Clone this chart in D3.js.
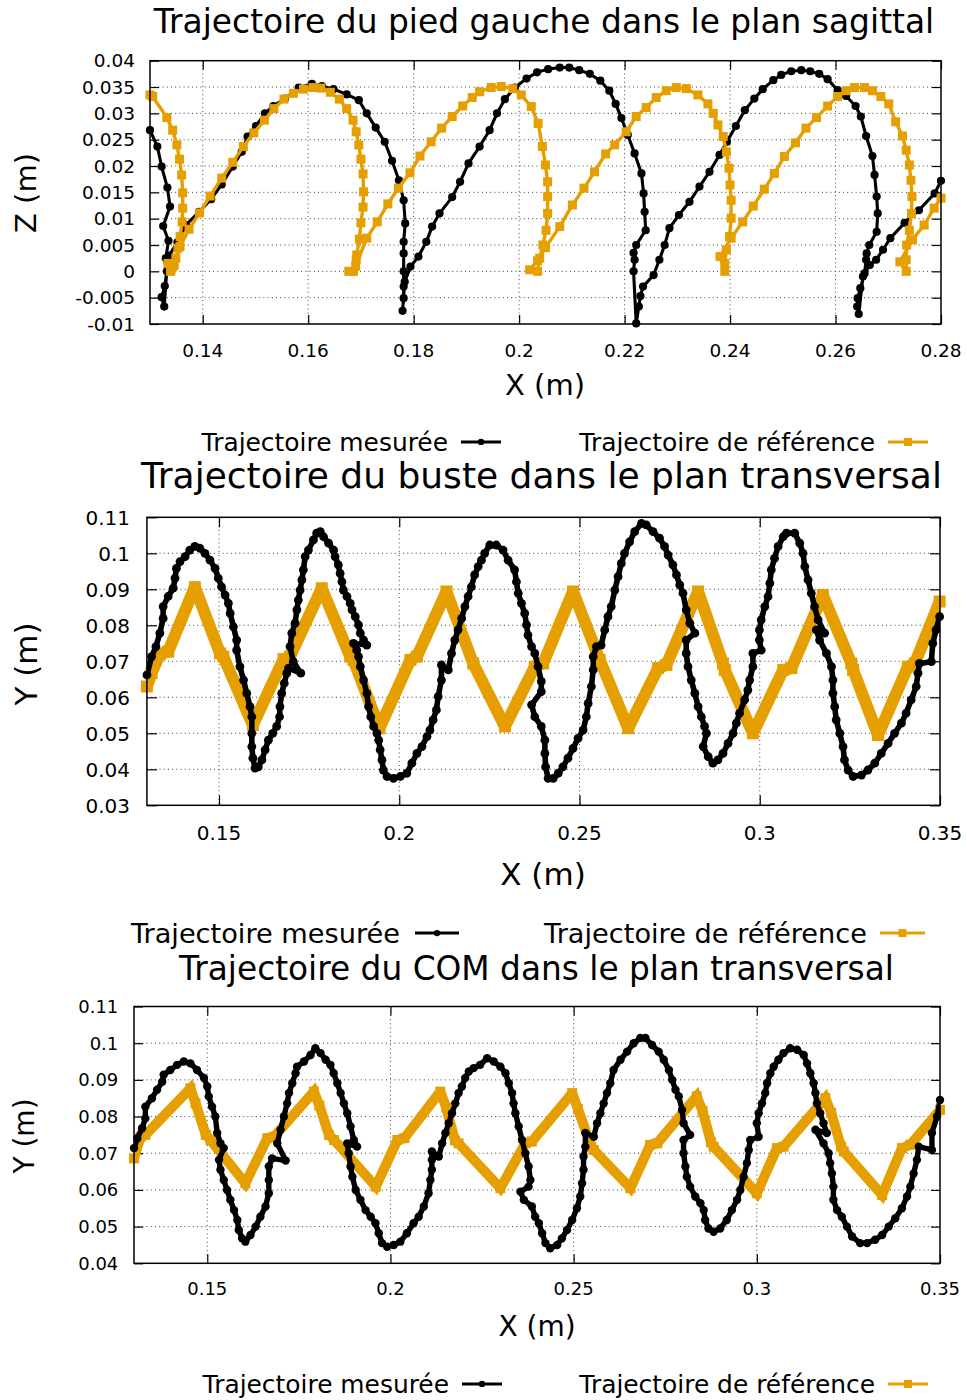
<!DOCTYPE html>
<html><head><meta charset="utf-8">
<script src="https://cdn.jsdelivr.net/npm/d3@7"></script>
<style>body{margin:0;background:#fff}svg{display:block}text{font-family:"DejaVu Sans",sans-serif;fill:#000}</style>
</head><body><svg id="c" width="967" height="1400"></svg>
<script>
// ---------- Panel 1 : pied gauche, plan sagittal (X, Z) ----------
const footMeasured = [[0.1300,0.0268],[0.1314,0.0237],[0.1322,0.0199],[0.1333,0.0159],[0.1338,0.0123],[0.1325,0.0086],[0.1335,0.0058],[0.1330,0.0025],[0.1332,0.0000],[0.1328,-0.0028],[0.1322,-0.0049],[0.1327,-0.0067],[0.1333,0.0018],[0.1336,0.0030],[0.1352,0.0055],[0.1368,0.0088],[0.1393,0.0113],[0.1416,0.0137],[0.1436,0.0165],[0.1457,0.0199],[0.1474,0.0227],[0.1485,0.0256],[0.1501,0.0276],[0.1518,0.0300],[0.1534,0.0314],[0.1556,0.0328],[0.1582,0.0349],[0.1607,0.0356],[0.1626,0.0352],[0.1648,0.0346],[0.1673,0.0336],[0.1696,0.0325],[0.1711,0.0300],[0.1728,0.0273],[0.1745,0.0246],[0.1759,0.0210],[0.1772,0.0173],[0.1781,0.0135],[0.1784,0.0091],[0.1781,0.0056],[0.1781,0.0034],[0.1781,0.0000],[0.1781,-0.0029],[0.1781,-0.0051],[0.1779,-0.0075],[0.1783,-0.0020],[0.1794,0.0009],[0.1809,0.0028],[0.1824,0.0056],[0.1835,0.0085],[0.1849,0.0110],[0.1873,0.0141],[0.1888,0.0170],[0.1904,0.0205],[0.1925,0.0237],[0.1944,0.0268],[0.1958,0.0300],[0.1973,0.0327],[0.1992,0.0349],[0.2014,0.0366],[0.2034,0.0378],[0.2055,0.0384],[0.2077,0.0387],[0.2095,0.0387],[0.2114,0.0382],[0.2134,0.0375],[0.2154,0.0362],[0.2171,0.0343],[0.2183,0.0318],[0.2194,0.0291],[0.2206,0.0259],[0.2219,0.0224],[0.2232,0.0186],[0.2236,0.0148],[0.2238,0.0113],[0.2240,0.0078],[0.2222,0.0050],[0.2217,0.0035],[0.2219,0.0022],[0.2217,0.0000],[0.2222,-0.0099],[0.2227,-0.0067],[0.2230,-0.0047],[0.2235,-0.0029],[0.2255,-0.0007],[0.2266,0.0022],[0.2276,0.0050],[0.2285,0.0082],[0.2303,0.0107],[0.2323,0.0132],[0.2342,0.0161],[0.2361,0.0189],[0.2380,0.0221],[0.2394,0.0246],[0.2411,0.0276],[0.2428,0.0306],[0.2446,0.0328],[0.2462,0.0346],[0.2482,0.0363],[0.2497,0.0373],[0.2516,0.0380],[0.2535,0.0382],[0.2552,0.0380],[0.2569,0.0375],[0.2585,0.0365],[0.2604,0.0344],[0.2620,0.0333],[0.2638,0.0314],[0.2648,0.0294],[0.2658,0.0257],[0.2670,0.0219],[0.2674,0.0183],[0.2678,0.0142],[0.2680,0.0110],[0.2678,0.0075],[0.2664,0.0050],[0.2659,0.0034],[0.2658,0.0022],[0.2655,-0.0004],[0.2647,-0.0032],[0.2642,-0.0051],[0.2641,-0.0067],[0.2644,-0.0081],[0.2652,-0.0010],[0.2665,0.0012],[0.2677,0.0022],[0.2690,0.0041],[0.2704,0.0063],[0.2731,0.0092],[0.2758,0.0116],[0.2788,0.0148],[0.2800,0.0172]];
const footReference = [[0.1300,0.0335],[0.1305,0.0332],[0.1332,0.0292],[0.1343,0.0268],[0.1351,0.0240],[0.1356,0.0213],[0.1360,0.0183],[0.1362,0.0149],[0.1362,0.0120],[0.1361,0.0094],[0.1357,0.0066],[0.1353,0.0044],[0.1349,0.0025],[0.1343,0.0009],[0.1339,0.0000],[0.1334,0.0015],[0.1340,0.0003],[0.1346,0.0012],[0.1357,0.0047],[0.1374,0.0080],[0.1394,0.0111],[0.1414,0.0143],[0.1436,0.0177],[0.1457,0.0207],[0.1477,0.0237],[0.1497,0.0263],[0.1517,0.0287],[0.1535,0.0309],[0.1554,0.0327],[0.1572,0.0338],[0.1591,0.0346],[0.1609,0.0349],[0.1624,0.0348],[0.1642,0.0340],[0.1659,0.0327],[0.1673,0.0309],[0.1685,0.0287],[0.1691,0.0265],[0.1696,0.0240],[0.1700,0.0213],[0.1704,0.0185],[0.1705,0.0151],[0.1704,0.0122],[0.1700,0.0092],[0.1697,0.0061],[0.1692,0.0031],[0.1691,0.0022],[0.1686,0.0000],[0.1677,0.0000],[0.1690,0.0010],[0.1711,0.0063],[0.1731,0.0094],[0.1751,0.0128],[0.1771,0.0158],[0.1793,0.0187],[0.1812,0.0219],[0.1833,0.0246],[0.1853,0.0272],[0.1873,0.0294],[0.1893,0.0314],[0.1911,0.0330],[0.1925,0.0341],[0.1947,0.0349],[0.1966,0.0351],[0.1988,0.0347],[0.2004,0.0335],[0.2023,0.0313],[0.2036,0.0281],[0.2044,0.0237],[0.2050,0.0202],[0.2054,0.0170],[0.2054,0.0142],[0.2054,0.0110],[0.2051,0.0078],[0.2045,0.0050],[0.2039,0.0025],[0.2035,0.0000],[0.2020,0.0003],[0.2035,0.0020],[0.2050,0.0045],[0.2077,0.0085],[0.2101,0.0126],[0.2123,0.0158],[0.2143,0.0189],[0.2164,0.0223],[0.2181,0.0240],[0.2203,0.0265],[0.2222,0.0294],[0.2241,0.0311],[0.2260,0.0330],[0.2279,0.0343],[0.2298,0.0349],[0.2317,0.0347],[0.2339,0.0335],[0.2358,0.0318],[0.2368,0.0300],[0.2377,0.0278],[0.2387,0.0256],[0.2393,0.0227],[0.2398,0.0196],[0.2400,0.0164],[0.2402,0.0135],[0.2402,0.0101],[0.2399,0.0066],[0.2393,0.0041],[0.2390,0.0015],[0.2390,0.0000],[0.2381,0.0028],[0.2402,0.0063],[0.2424,0.0094],[0.2444,0.0124],[0.2465,0.0156],[0.2484,0.0186],[0.2503,0.0218],[0.2524,0.0244],[0.2544,0.0272],[0.2564,0.0292],[0.2585,0.0314],[0.2604,0.0332],[0.2620,0.0343],[0.2636,0.0349],[0.2655,0.0349],[0.2670,0.0343],[0.2686,0.0332],[0.2701,0.0318],[0.2714,0.0284],[0.2727,0.0257],[0.2734,0.0230],[0.2740,0.0202],[0.2743,0.0173],[0.2745,0.0142],[0.2744,0.0110],[0.2740,0.0078],[0.2735,0.0050],[0.2734,0.0022],[0.2734,0.0000],[0.2722,0.0018],[0.2746,0.0060],[0.2768,0.0088],[0.2787,0.0120],[0.2800,0.0139]];
const footXTicks = [0.14,0.16,0.18,0.20,0.22,0.24,0.26,0.28];
const footXLabels = ["0.14","0.16","0.18","0.2","0.22","0.24","0.26","0.28"];
const footYTicks = [-0.01,-0.005,0,0.005,0.01,0.015,0.02,0.025,0.03,0.035,0.04];
const footYLabels = ["-0.01","-0.005","0","0.005","0.01","0.015","0.02","0.025","0.03","0.035","0.04"];

// ---------- Panel 2 : buste, plan transversal (X, Y) ----------
const trunkMeasured = [[0.1300,0.0662],[0.1313,0.0713],[0.1325,0.0741],[0.1336,0.0778],[0.1345,0.0819],[0.1345,0.0852],[0.1359,0.0880],[0.1373,0.0903],[0.1378,0.0931],[0.1382,0.0958],[0.1392,0.0977],[0.1406,0.0991],[0.1419,0.1009],[0.1433,0.1019],[0.1447,0.1014],[0.1461,0.1000],[0.1475,0.0981],[0.1489,0.0958],[0.1498,0.0931],[0.1507,0.0907],[0.1517,0.0884],[0.1526,0.0861],[0.1531,0.0833],[0.1540,0.0796],[0.1549,0.0759],[0.1549,0.0731],[0.1558,0.0685],[0.1568,0.0648],[0.1577,0.0611],[0.1586,0.0574],[0.1591,0.0546],[0.1591,0.0500],[0.1591,0.0463],[0.1594,0.0431],[0.1600,0.0403],[0.1609,0.0407],[0.1619,0.0426],[0.1628,0.0454],[0.1637,0.0481],[0.1649,0.0500],[0.1660,0.0519],[0.1668,0.0546],[0.1669,0.0574],[0.1674,0.0611],[0.1681,0.0639],[0.1688,0.0667],[0.1693,0.0681],[0.1727,0.0667],[0.1706,0.0699],[0.1697,0.0741],[0.1702,0.0778],[0.1711,0.0806],[0.1716,0.0843],[0.1720,0.0870],[0.1725,0.0898],[0.1730,0.0926],[0.1734,0.0954],[0.1739,0.0991],[0.1748,0.1009],[0.1762,0.1037],[0.1771,0.1056],[0.1781,0.1060],[0.1790,0.1046],[0.1804,0.1028],[0.1818,0.1009],[0.1822,0.0991],[0.1831,0.0968],[0.1836,0.0944],[0.1841,0.0921],[0.1845,0.0898],[0.1855,0.0880],[0.1864,0.0861],[0.1869,0.0843],[0.1878,0.0824],[0.1887,0.0801],[0.1892,0.0778],[0.1901,0.0759],[0.1910,0.0745],[0.1873,0.0750],[0.1882,0.0731],[0.1887,0.0713],[0.1892,0.0685],[0.1901,0.0648],[0.1910,0.0611],[0.1915,0.0574],[0.1921,0.0546],[0.1929,0.0519],[0.1938,0.0500],[0.1943,0.0481],[0.1947,0.0454],[0.1952,0.0426],[0.1956,0.0398],[0.1966,0.0380],[0.1984,0.0375],[0.2003,0.0380],[0.2021,0.0389],[0.2035,0.0417],[0.2049,0.0444],[0.2063,0.0463],[0.2077,0.0491],[0.2085,0.0509],[0.2094,0.0537],[0.2103,0.0565],[0.2108,0.0602],[0.2117,0.0648],[0.2117,0.0690],[0.2136,0.0676],[0.2145,0.0722],[0.2154,0.0759],[0.2163,0.0787],[0.2173,0.0819],[0.2182,0.0852],[0.2191,0.0880],[0.2200,0.0907],[0.2209,0.0940],[0.2219,0.0963],[0.2228,0.0981],[0.2237,0.1000],[0.2251,0.1023],[0.2269,0.1023],[0.2288,0.1009],[0.2302,0.0981],[0.2320,0.0954],[0.2325,0.0921],[0.2330,0.0889],[0.2339,0.0861],[0.2348,0.0833],[0.2353,0.0801],[0.2357,0.0773],[0.2367,0.0741],[0.2376,0.0722],[0.2385,0.0685],[0.2394,0.0644],[0.2394,0.0616],[0.2367,0.0579],[0.2376,0.0546],[0.2394,0.0519],[0.2404,0.0481],[0.2404,0.0444],[0.2406,0.0407],[0.2413,0.0375],[0.2427,0.0375],[0.2441,0.0389],[0.2454,0.0407],[0.2468,0.0431],[0.2482,0.0458],[0.2496,0.0486],[0.2510,0.0509],[0.2519,0.0546],[0.2524,0.0583],[0.2533,0.0630],[0.2538,0.0676],[0.2538,0.0713],[0.2547,0.0741],[0.2560,0.0745],[0.2570,0.0787],[0.2579,0.0824],[0.2588,0.0852],[0.2598,0.0898],[0.2607,0.0935],[0.2616,0.0972],[0.2625,0.1000],[0.2639,0.1032],[0.2653,0.1060],[0.2672,0.1083],[0.2685,0.1079],[0.2704,0.1060],[0.2722,0.1042],[0.2736,0.1019],[0.2746,0.0995],[0.2759,0.0968],[0.2769,0.0940],[0.2778,0.0912],[0.2787,0.0889],[0.2796,0.0843],[0.2806,0.0806],[0.2820,0.0778],[0.2796,0.0759],[0.2796,0.0722],[0.2801,0.0685],[0.2810,0.0648],[0.2820,0.0611],[0.2829,0.0574],[0.2838,0.0546],[0.2847,0.0519],[0.2852,0.0500],[0.2843,0.0463],[0.2857,0.0435],[0.2870,0.0417],[0.2884,0.0426],[0.2898,0.0444],[0.2912,0.0472],[0.2926,0.0500],[0.2935,0.0528],[0.2944,0.0556],[0.2958,0.0593],[0.2967,0.0620],[0.2972,0.0648],[0.2981,0.0685],[0.2981,0.0722],[0.3004,0.0731],[0.2999,0.0759],[0.2999,0.0787],[0.3004,0.0815],[0.3014,0.0852],[0.3023,0.0880],[0.3028,0.0917],[0.3032,0.0954],[0.3041,0.0986],[0.3051,0.1019],[0.3065,0.1046],[0.3074,0.1056],[0.3097,0.1056],[0.3111,0.1028],[0.3120,0.1000],[0.3125,0.0963],[0.3134,0.0926],[0.3143,0.0889],[0.3152,0.0852],[0.3162,0.0815],[0.3180,0.0778],[0.3157,0.0787],[0.3166,0.0759],[0.3185,0.0722],[0.3199,0.0685],[0.3203,0.0648],[0.3203,0.0611],[0.3208,0.0574],[0.3212,0.0537],[0.3222,0.0500],[0.3231,0.0463],[0.3235,0.0426],[0.3245,0.0398],[0.3259,0.0380],[0.3282,0.0384],[0.3300,0.0398],[0.3319,0.0417],[0.3337,0.0444],[0.3356,0.0472],[0.3374,0.0500],[0.3393,0.0528],[0.3406,0.0556],[0.3420,0.0593],[0.3434,0.0630],[0.3439,0.0667],[0.3443,0.0694],[0.3476,0.0699],[0.3480,0.0750],[0.3489,0.0787],[0.3499,0.0824]];
const trunkReference = [[0.1300,0.0630],[0.1313,0.0667],[0.1336,0.0720],[0.1359,0.0727],[0.1433,0.0906],[0.1503,0.0722],[0.1512,0.0713],[0.1594,0.0523],[0.1679,0.0706],[0.1697,0.0713],[0.1785,0.0903],[0.1864,0.0713],[0.1873,0.0704],[0.1945,0.0514],[0.2031,0.0704],[0.2049,0.0713],[0.2131,0.0894],[0.2205,0.0694],[0.2293,0.0519],[0.2376,0.0685],[0.2399,0.0694],[0.2482,0.0894],[0.2556,0.0704],[0.2635,0.0514],[0.2718,0.0681],[0.2741,0.0690],[0.2829,0.0894],[0.2898,0.0694],[0.2903,0.0676],[0.2981,0.0500],[0.3065,0.0676],[0.3088,0.0681],[0.3175,0.0884],[0.3254,0.0694],[0.3259,0.0676],[0.3328,0.0495],[0.3411,0.0685],[0.3430,0.0694],[0.3499,0.0866]];
const transXTicks = [0.15,0.20,0.25,0.30,0.35];
const transXLabels = ["0.15","0.2","0.25","0.3","0.35"];
const trunkYTicks = [0.03,0.04,0.05,0.06,0.07,0.08,0.09,0.10,0.11];
const trunkYLabels = ["0.03","0.04","0.05","0.06","0.07","0.08","0.09","0.1","0.11"];

// ---------- Panel 3 : COM, plan transversal (X, Y) ----------
const comMeasured = [[0.1300,0.0714],[0.1309,0.0741],[0.1322,0.0768],[0.1331,0.0795],[0.1331,0.0827],[0.1349,0.0850],[0.1363,0.0873],[0.1377,0.0895],[0.1381,0.0914],[0.1399,0.0927],[0.1418,0.0941],[0.1436,0.0950],[0.1454,0.0945],[0.1472,0.0927],[0.1491,0.0905],[0.1500,0.0882],[0.1504,0.0855],[0.1513,0.0827],[0.1522,0.0800],[0.1527,0.0755],[0.1536,0.0727],[0.1545,0.0714],[0.1532,0.0682],[0.1536,0.0655],[0.1545,0.0627],[0.1554,0.0600],[0.1563,0.0573],[0.1573,0.0545],[0.1582,0.0518],[0.1586,0.0491],[0.1595,0.0468],[0.1604,0.0459],[0.1618,0.0477],[0.1632,0.0500],[0.1645,0.0527],[0.1659,0.0555],[0.1668,0.0591],[0.1668,0.0627],[0.1668,0.0664],[0.1677,0.0686],[0.1714,0.0680],[0.1691,0.0727],[0.1700,0.0764],[0.1709,0.0800],[0.1718,0.0836],[0.1723,0.0864],[0.1732,0.0891],[0.1741,0.0918],[0.1745,0.0936],[0.1764,0.0950],[0.1782,0.0968],[0.1795,0.0986],[0.1809,0.0973],[0.1823,0.0955],[0.1836,0.0941],[0.1845,0.0918],[0.1855,0.0891],[0.1864,0.0864],[0.1873,0.0836],[0.1882,0.0809],[0.1891,0.0773],[0.1900,0.0736],[0.1909,0.0718],[0.1882,0.0727],[0.1886,0.0700],[0.1891,0.0664],[0.1896,0.0636],[0.1905,0.0600],[0.1918,0.0573],[0.1932,0.0545],[0.1946,0.0527],[0.1959,0.0509],[0.1968,0.0482],[0.1977,0.0455],[0.1991,0.0445],[0.2009,0.0450],[0.2027,0.0459],[0.2045,0.0482],[0.2063,0.0509],[0.2077,0.0527],[0.2091,0.0555],[0.2104,0.0591],[0.2109,0.0627],[0.2113,0.0655],[0.2113,0.0682],[0.2113,0.0705],[0.2132,0.0691],[0.2141,0.0727],[0.2150,0.0755],[0.2159,0.0782],[0.2168,0.0809],[0.2177,0.0836],[0.2186,0.0864],[0.2195,0.0882],[0.2204,0.0905],[0.2214,0.0923],[0.2227,0.0932],[0.2245,0.0941],[0.2264,0.0959],[0.2282,0.0950],[0.2300,0.0936],[0.2314,0.0918],[0.2323,0.0891],[0.2332,0.0864],[0.2336,0.0836],[0.2341,0.0809],[0.2350,0.0773],[0.2359,0.0736],[0.2368,0.0700],[0.2377,0.0664],[0.2382,0.0627],[0.2377,0.0609],[0.2355,0.0595],[0.2364,0.0573],[0.2386,0.0555],[0.2395,0.0527],[0.2405,0.0509],[0.2414,0.0482],[0.2423,0.0455],[0.2436,0.0441],[0.2455,0.0450],[0.2468,0.0468],[0.2482,0.0491],[0.2496,0.0518],[0.2509,0.0550],[0.2518,0.0582],[0.2523,0.0618],[0.2527,0.0655],[0.2527,0.0691],[0.2532,0.0718],[0.2532,0.0755],[0.2555,0.0745],[0.2564,0.0782],[0.2573,0.0809],[0.2582,0.0836],[0.2591,0.0864],[0.2600,0.0891],[0.2609,0.0927],[0.2628,0.0955],[0.2646,0.0977],[0.2664,0.1000],[0.2682,0.1014],[0.2696,0.1014],[0.2714,0.0995],[0.2732,0.0977],[0.2746,0.0955],[0.2760,0.0927],[0.2769,0.0900],[0.2778,0.0873],[0.2787,0.0855],[0.2796,0.0818],[0.2800,0.0782],[0.2818,0.0750],[0.2800,0.0736],[0.2800,0.0700],[0.2805,0.0664],[0.2809,0.0636],[0.2818,0.0609],[0.2832,0.0582],[0.2846,0.0564],[0.2855,0.0545],[0.2859,0.0518],[0.2868,0.0495],[0.2882,0.0486],[0.2900,0.0495],[0.2918,0.0518],[0.2932,0.0545],[0.2946,0.0573],[0.2955,0.0600],[0.2964,0.0636],[0.2973,0.0673],[0.2978,0.0709],[0.2982,0.0736],[0.3005,0.0745],[0.3000,0.0782],[0.3005,0.0809],[0.3014,0.0836],[0.3023,0.0864],[0.3028,0.0891],[0.3037,0.0918],[0.3046,0.0936],[0.3059,0.0955],[0.3073,0.0973],[0.3091,0.0986],[0.3110,0.0982],[0.3128,0.0968],[0.3137,0.0945],[0.3146,0.0918],[0.3155,0.0891],[0.3160,0.0864],[0.3164,0.0836],[0.3173,0.0809],[0.3182,0.0782],[0.3191,0.0755],[0.3160,0.0764],[0.3182,0.0727],[0.3196,0.0700],[0.3200,0.0673],[0.3205,0.0645],[0.3209,0.0609],[0.3209,0.0573],[0.3219,0.0545],[0.3232,0.0527],[0.3246,0.0500],[0.3260,0.0473],[0.3282,0.0455],[0.3301,0.0455],[0.3323,0.0464],[0.3342,0.0477],[0.3360,0.0500],[0.3378,0.0523],[0.3396,0.0550],[0.3410,0.0582],[0.3419,0.0609],[0.3428,0.0645],[0.3437,0.0682],[0.3442,0.0718],[0.3478,0.0709],[0.3478,0.0755],[0.3492,0.0800],[0.3500,0.0845]];
const comReference = [[0.1300,0.0686],[0.1318,0.0745],[0.1331,0.0750],[0.1454,0.0877],[0.1468,0.0836],[0.1496,0.0750],[0.1509,0.0736],[0.1604,0.0618],[0.1664,0.0741],[0.1682,0.0745],[0.1791,0.0868],[0.1806,0.0830],[0.1832,0.0750],[0.1846,0.0736],[0.1960,0.0609],[0.2019,0.0736],[0.2038,0.0741],[0.2136,0.0868],[0.2152,0.0825],[0.2176,0.0735],[0.2186,0.0727],[0.2300,0.0605],[0.2368,0.0727],[0.2386,0.0732],[0.2496,0.0864],[0.2512,0.0820],[0.2548,0.0718],[0.2555,0.0709],[0.2655,0.0605],[0.2709,0.0723],[0.2728,0.0727],[0.2836,0.0855],[0.2852,0.0815],[0.2875,0.0730],[0.2882,0.0718],[0.3000,0.0591],[0.3055,0.0714],[0.3073,0.0718],[0.3187,0.0850],[0.3203,0.0810],[0.3230,0.0718],[0.3237,0.0705],[0.3342,0.0586],[0.3396,0.0714],[0.3419,0.0723],[0.3500,0.0818]];
const comYTicks = [0.04,0.05,0.06,0.07,0.08,0.09,0.10,0.11];
const comYLabels = ["0.04","0.05","0.06","0.07","0.08","0.09","0.1","0.11"];

const titles = ["Trajectoire du pied gauche dans le plan sagittal","Trajectoire du buste dans le plan transversal","Trajectoire du COM dans le plan transversal"];
const seriesNames = ["Trajectoire mesurée","Trajectoire de référence"];

// ---------- styling / layout ----------
const BLACK = "#000000", ORANGE = "#E69F00";
const panels = [
  {measured:footMeasured, reference:footReference, xd:[0.13,0.28], yd:[-0.01,0.04], xt:footXTicks, xl:footXLabels, yt:footYTicks, yl:footYLabels, xlab:"X (m)", ylab:"Z (m)", title:titles[0],
   L:150, R:941, T:60.7, B:324, tick:9, tfs:18.5, yLabRight:135, xLabBase:356.5, afs:29, xLabX:545, xLabBaseY:395, yLabX:36, yLabY:193,
   titleX:544, titleY:33.3, titleFs:32.9, legY:451, legFs:24.9, leg:[448,461,501,875,888,928],
   lw:3.1, r:4.1, rlw:3.4, sq:9, refOnTop:true},
  {measured:trunkMeasured, reference:trunkReference, xd:[0.13,0.35], yd:[0.03,0.11], xt:transXTicks, xl:transXLabels, yt:trunkYTicks, yl:trunkYLabels, xlab:"X (m)", ylab:"Y (m)", title:titles[1],
   L:146.9, R:940, T:517.3, B:805.3, tick:10, tfs:20, yLabRight:130, xLabBase:840, afs:31, xLabX:543, xLabBaseY:885, yLabX:37, yLabY:664,
   titleX:541.5, titleY:488.3, titleFs:36, legY:943, legFs:27.2, leg:[400,415,459,867,880,925],
   lw:5.6, r:4.4, rlw:12, sq:12, refOnTop:false},
  {measured:comMeasured, reference:comReference, xd:[0.13,0.35], yd:[0.04,0.11], xt:transXTicks, xl:transXLabels, yt:comYTicks, yl:comYLabels, xlab:"X (m)", ylab:"Y (m)", title:titles[2],
   L:134, R:940, T:1006.5, B:1263.3, tick:9, tfs:18, yLabRight:118.3, xLabBase:1295, afs:28, xLabX:537, xLabBaseY:1336, yLabX:34, yLabY:1136,
   titleX:536.5, titleY:980, titleFs:32.8, legY:1393, legFs:24.9, leg:[449,462,502,875,888,928],
   lw:5.4, r:4.2, rlw:10, sq:10, refOnTop:false}
];

const svg = d3.select("#c");
svg.append("rect").attr("width",967).attr("height",1400).attr("fill","#fff");

panels.forEach((p,i)=>{
  const g = svg.append("g");
  const x = d3.scaleLinear().domain(p.xd).range([p.L,p.R]);
  const y = d3.scaleLinear().domain(p.yd).range([p.B,p.T]);

  // grid
  const grid = g.append("g").attr("stroke","#000").attr("stroke-width",1).attr("stroke-dasharray","1,3.2").attr("opacity",0.75);
  p.xt.filter(v=>Math.abs(x(v)-p.L)>2 && Math.abs(x(v)-p.R)>2).forEach(v=>{
    grid.append("line").attr("x1",x(v)).attr("x2",x(v)).attr("y1",p.T).attr("y2",p.B);
  });
  p.yt.filter(v=>Math.abs(y(v)-p.T)>2 && Math.abs(y(v)-p.B)>2).forEach(v=>{
    grid.append("line").attr("x1",p.L).attr("x2",p.R).attr("y1",y(v)).attr("y2",y(v));
  });

  // axes via d3 axis (ticks inside, mirrored)
  const mk = (axis, tr) => g.append("g").attr("transform",tr).call(axis)
      .call(s=>{s.select(".domain").remove(); s.selectAll("text").remove(); s.selectAll("line").attr("stroke","#000").attr("stroke-width",1.2);});
  mk(d3.axisBottom(x).tickValues(p.xt).tickSize(-p.tick), `translate(0,${p.B})`);
  mk(d3.axisTop(x).tickValues(p.xt).tickSize(-p.tick), `translate(0,${p.T})`);
  mk(d3.axisLeft(y).tickValues(p.yt).tickSize(-p.tick), `translate(${p.L},0)`);
  mk(d3.axisRight(y).tickValues(p.yt).tickSize(-p.tick), `translate(${p.R},0)`);

  // tick labels
  p.xt.forEach((v,k)=>{
    g.append("text").attr("x",x(v)).attr("y",p.xLabBase).attr("text-anchor","middle").attr("font-size",p.tfs).text(p.xl[k]);
  });
  p.yt.forEach((v,k)=>{
    g.append("text").attr("x",p.yLabRight).attr("y",y(v)+0.3645*p.tfs).attr("text-anchor","end").attr("font-size",p.tfs).text(p.yl[k]);
  });

  // clip
  const cid = "clip"+i;
  svg.append("clipPath").attr("id",cid).append("rect").attr("x",p.L).attr("y",p.T).attr("width",p.R-p.L).attr("height",p.B-p.T);

  const line = d3.line().x(d=>x(d[0])).y(d=>y(d[1]));
  const drawMeasured = () => {
    g.append("path").datum(p.measured).attr("d",line).attr("fill","none").attr("stroke",BLACK).attr("stroke-width",p.lw).attr("stroke-linejoin","round").attr("stroke-linecap","round").attr("clip-path",`url(#${cid})`);
    g.append("g").selectAll("circle").data(p.measured).join("circle").attr("cx",d=>x(d[0])).attr("cy",d=>y(d[1])).attr("r",p.r).attr("fill",BLACK);
  };
  const drawReference = () => {
    g.append("path").datum(p.reference).attr("d",line).attr("fill","none").attr("stroke",ORANGE).attr("stroke-width",p.rlw).attr("stroke-linejoin","miter").attr("stroke-miterlimit",2).attr("clip-path",`url(#${cid})`);
    g.append("g").selectAll("rect").data(p.reference).join("rect").attr("x",d=>x(d[0])-p.sq/2).attr("y",d=>y(d[1])-p.sq/2).attr("width",p.sq).attr("height",p.sq).attr("fill",ORANGE);
  };
  if (p.refOnTop) { drawMeasured(); drawReference(); } else { drawReference(); drawMeasured(); }

  // border
  g.append("rect").attr("x",p.L).attr("y",p.T).attr("width",p.R-p.L).attr("height",p.B-p.T).attr("fill","none").attr("stroke","#000").attr("stroke-width",1.5);

  // axis labels
  g.append("text").attr("x",p.xLabX).attr("y",p.xLabBaseY).attr("text-anchor","middle").attr("font-size",p.afs).text(p.xlab);
  g.append("text").attr("transform",`translate(${p.yLabX},${p.yLabY}) rotate(-90)`).attr("text-anchor","middle").attr("font-size",p.afs).text(p.ylab);

  // title
  g.append("text").attr("x",p.titleX).attr("y",p.titleY).attr("text-anchor","middle").attr("font-size",p.titleFs).text(p.title);

  // legend
  const ly = p.legY - 0.3645*p.legFs;
  g.append("text").attr("x",p.leg[0]).attr("y",p.legY).attr("text-anchor","end").attr("font-size",p.legFs).text(seriesNames[0]);
  g.append("line").attr("x1",p.leg[1]).attr("x2",p.leg[2]).attr("y1",ly).attr("y2",ly).attr("stroke",BLACK).attr("stroke-width",3);
  g.append("circle").attr("cx",(p.leg[1]+p.leg[2])/2).attr("cy",ly).attr("r",3.2).attr("fill",BLACK);
  g.append("text").attr("x",p.leg[3]).attr("y",p.legY).attr("text-anchor","end").attr("font-size",p.legFs).text(seriesNames[1]);
  g.append("line").attr("x1",p.leg[4]).attr("x2",p.leg[5]).attr("y1",ly).attr("y2",ly).attr("stroke",ORANGE).attr("stroke-width",3);
  g.append("rect").attr("x",(p.leg[4]+p.leg[5])/2-4).attr("y",ly-4).attr("width",8).attr("height",8).attr("fill",ORANGE);
});
</script>
</body></html>
